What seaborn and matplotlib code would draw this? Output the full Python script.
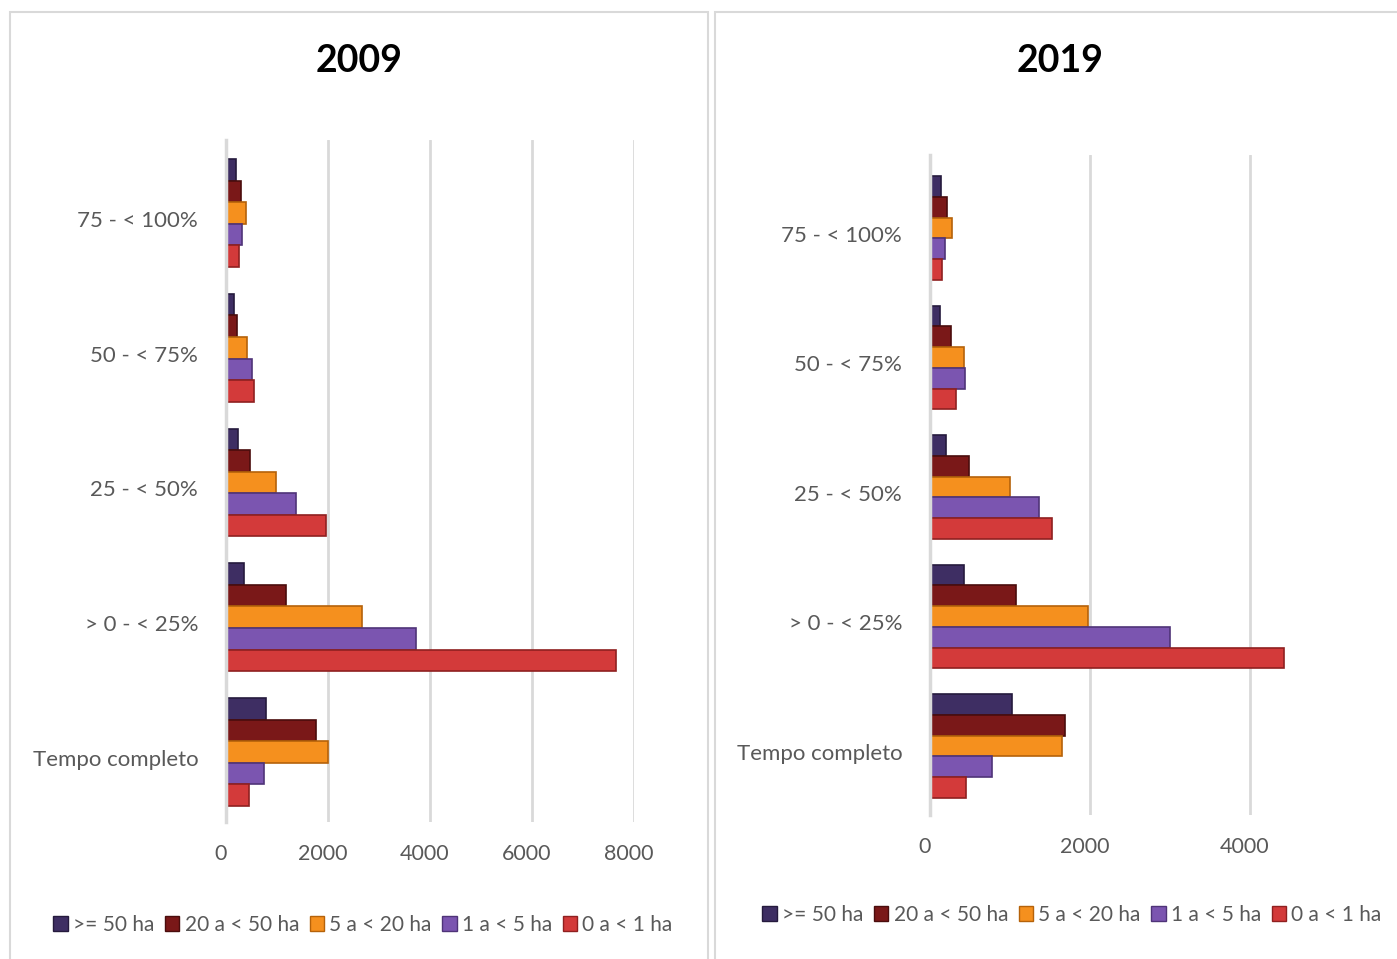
import matplotlib
matplotlib.use("Agg")
import matplotlib.pyplot as plt
import matplotlib.transforms as mtransforms
import seaborn as sns
import pandas as pd
from matplotlib.patches import Rectangle, Patch

sns.set_theme(style="white")
plt.rcParams['font.family'] = ['Lato', 'DejaVu Sans']

categories = ["75 - < 100%", "50 - < 75%", "25 - < 50%", "> 0 - < 25%", "Tempo completo"]
series = [">= 50 ha", "20 a < 50 ha", "5 a < 20 ha", "1 a < 5 ha", "0 a < 1 ha"]
colors = ["#3E2E63", "#7A1818", "#F5901E", "#7B55B0", "#D33A3A"]
edges = ["#251a3d", "#4a0d0d", "#b5620a", "#4f3478", "#8f2020"]

# values per category (order of `categories`), one list per series
v2009_ge50 = [200, 160, 230, 345, 790]
v2009_20_50 = [300, 215, 475, 1180, 1760]
v2009_5_20 = [390, 410, 985, 2660, 2000]
v2009_1_5 = [320, 510, 1370, 3735, 745]
v2009_0_1 = [250, 555, 1960, 7650, 445]

v2019_ge50 = [137, 125, 204, 429, 1025]
v2019_20_50 = [212, 258, 483, 1075, 1692]
v2019_5_20 = [280, 425, 1004, 1979, 1654]
v2019_1_5 = [183, 437, 1358, 3000, 771]
v2019_0_1 = [150, 325, 1529, 4421, 450]

xticks_2009 = [0, 2000, 4000, 6000, 8000]
xticks_2019 = [0, 2000, 4000]


def make_df(vals):
    rows = []
    for s, vs in zip(series, vals):
        for c, v in zip(categories, vs):
            rows.append({"cat": c, "series": s, "value": v})
    return pd.DataFrame(rows)


df09 = make_df([v2009_ge50, v2009_20_50, v2009_5_20, v2009_1_5, v2009_0_1])
df19 = make_df([v2019_ge50, v2019_20_50, v2019_5_20, v2019_1_5, v2019_0_1])

W, H = 1397, 959
fig = plt.figure(figsize=(W / 100, H / 100), dpi=100)

# panel frames
for x0, x1 in [(10, 708), (715, 1400)]:
    fig.patches.append(Rectangle((x0 / W, -0.01), (x1 - x0) / W, (H - 12) / H + 0.01,
                                 transform=fig.transFigure, fill=False,
                                 edgecolor="#D9D9D9", linewidth=1.5))

textc = "#595959"


def panel(df, left, right, top, bottom, xmax, xticks, c0, c4, title, title_x, legend_y, legend_x):
    ax = fig.add_axes([left / W, 1 - bottom / H, (right - left) / W, (bottom - top) / H])
    sns.barplot(data=df, y="cat", x="value", hue="series", order=categories,
                hue_order=series, palette=colors, orient="h", width=0.8,
                saturation=1, ax=ax, legend=False)
    # darker edges per series
    for i, cont in enumerate(ax.containers):
        for bar in cont:
            bar.set_edgecolor(edges[i])
            bar.set_linewidth(1.2)
    scale = (c4 - c0) / 4.0
    ytop = (top - c0) / scale
    ybot = 4 + (bottom - c4) / scale
    ax.set_ylim(ybot, ytop)
    ax.set_xlim(0, xmax)
    ax.set_xticks(xticks)
    ax.set_xticklabels([str(t) for t in xticks])
    ax.set_xlabel("")
    ax.set_ylabel("")
    for t in xticks:
        ax.axvline(t, color="#D9D9D9", linewidth=2, zorder=0)
    for sp in ["top", "right", "bottom"]:
        ax.spines[sp].set_visible(False)
    ax.spines["left"].set_color("#D9D9D9")
    ax.spines["left"].set_linewidth(2.5)
    ax.tick_params(axis="x", length=0, pad=16, labelsize=15.5, labelcolor=textc)
    ax.tick_params(axis="y", length=0, pad=20, labelsize=16, labelcolor=textc)
    off = mtransforms.ScaledTranslation(0, -6 / 100, fig.dpi_scale_trans)
    for lab in ax.get_yticklabels():
        lab.set_transform(lab.get_transform() + off)
    offx = mtransforms.ScaledTranslation(-5 / 100, 0, fig.dpi_scale_trans)
    for lab in ax.get_xticklabels():
        lab.set_transform(lab.get_transform() + offx)
    fig.text(title_x / W, 1 - 61 / H, title, ha="center", va="center",
             fontsize=27, fontweight="bold", color="black")
    handles = [Patch(facecolor=c, edgecolor=e) for c, e in zip(colors, edges)]
    fig.legend(handles, series, loc="center", bbox_to_anchor=(legend_x / W, 1 - legend_y / H),
               ncol=5, frameon=False, fontsize=15, labelcolor=textc,
               handlelength=0.7, handleheight=0.7, handletextpad=0.25,
               columnspacing=0.5)
    return ax


panel(df09, 226, 634, 140, 822, 8000, xticks_2009, 213, 752, "2009", 359, 925, 363)
panel(df19, 930, 1397, 155, 815, (1397 - 930) / 0.08, xticks_2019, 228, 746, "2019", 1060, 915, 1072)

fig.savefig("out.png", dpi=100)
